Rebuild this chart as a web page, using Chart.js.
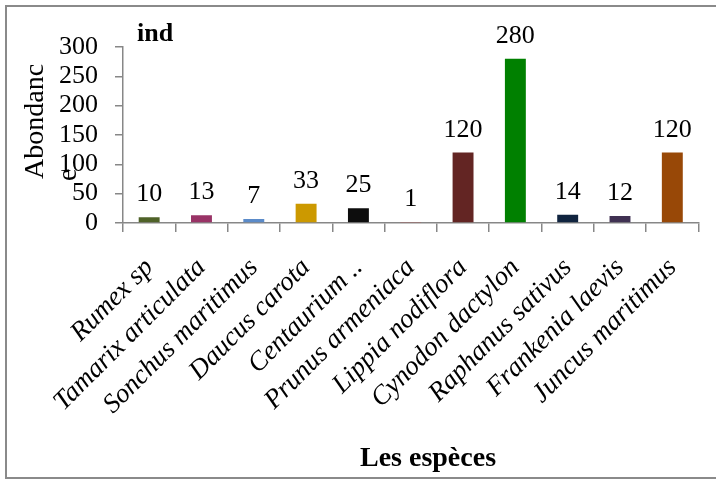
<!DOCTYPE html>
<html>
<head>
<meta charset="utf-8">
<script src="https://cdn.jsdelivr.net/npm/chart.js@4/dist/chart.umd.min.js"></script>
<style>
  html, body { margin: 0; padding: 0; background: #fff; }
  #wrap { position: relative; width: 716px; height: 480px; }
</style>
</head>
<body>
<div id="wrap"><canvas id="c" width="716" height="480"></canvas></div>
<script>
// Species observed and their abundance (number of individuals)
const species = [
  'Rumex sp', 'Tamarix articulata', 'Sonchus maritimus', 'Daucus carota',
  'Centaurium ..', 'Prunus armeniaca', 'Lippia nodiflora', 'Cynodon dactylon',
  'Raphanus sativus', 'Frankenia laevis', 'Juncus maritimus'
];
const abundance = [10, 13, 7, 33, 25, 1, 120, 280, 14, 12, 120];
const barColors = [
  '#4F6228', '#993366', '#5B8BC9', '#CC9900', '#0D0D0D', '#C0504D',
  '#632523', '#008000', '#10243F', '#403152', '#984807'
];
const yTicks = [0, 50, 100, 150, 200, 250, 300];

const SERIF = "'Liberation Serif', 'Times New Roman', serif";
const AXIS = '#878787';

// Grey frame around the whole figure
const framePlugin = {
  id: 'frame',
  beforeDraw(chart) {
    const ctx = chart.ctx;
    ctx.save();
    ctx.fillStyle = '#fff';
    ctx.fillRect(0, 0, chart.width, chart.height);
    ctx.strokeStyle = '#8a8a8a';
    ctx.lineWidth = 2;
    ctx.strokeRect(6, 6, 730, 472);
    ctx.restore();
  }
};

// Value above each bar, plus axis titles
const labelsPlugin = {
  id: 'valueLabels',
  afterDatasetsDraw(chart) {
    const ctx = chart.ctx;
    const meta = chart.getDatasetMeta(0);
    const data = chart.data.datasets[0].data;
    ctx.save();
    ctx.fillStyle = '#000';
    ctx.font = '26px ' + SERIF;
    ctx.textAlign = 'center';
    ctx.textBaseline = 'alphabetic';
    meta.data.forEach((bar, i) => {
      ctx.fillText(String(data[i]), bar.x, bar.y - 16);
    });

    // unit label
    ctx.font = 'bold 26px ' + SERIF;
    ctx.textAlign = 'left';
    ctx.fillText('ind', 137, 41);

    // x axis title
    ctx.font = 'bold 28px ' + SERIF;
    ctx.textAlign = 'center';
    ctx.fillText('Les espèces', 428, 466);

    // y axis title, wrapped onto two lines
    ctx.font = '28px ' + SERIF;
    ctx.textAlign = 'left';
    ctx.translate(43, 179);
    ctx.rotate(-Math.PI / 2);
    ctx.fillText('Abondanc', 0, 0);
    ctx.fillText('e', -2, 33);
    ctx.restore();
  }
};

new Chart(document.getElementById('c'), {
  type: 'bar',
  data: {
    labels: species,
    datasets: [{
      data: abundance,
      backgroundColor: barColors,
      borderWidth: 0,
      barPercentage: 0.4,
      categoryPercentage: 1.0
    }]
  },
  options: {
    responsive: false,
    animation: false,
    devicePixelRatio: 1,
    layout: { padding: { top: 47, right: 17, left: 0, bottom: 0 } },
    plugins: {
      legend: { display: false },
      tooltip: { enabled: false }
    },
    scales: {
      x: {
        offset: true,
        grid: {
          display: true,
          offset: true,
          drawOnChartArea: false,
          drawTicks: true,
          tickLength: 9,
          color: AXIS,
          lineWidth: 1.5
        },
        border: { display: true, color: AXIS, width: 1.5 },
        ticks: {
          autoSkip: false,
          minRotation: 45,
          maxRotation: 45,
          padding: 20,
          color: '#000',
          font: { family: SERIF, size: 27, style: 'italic' }
        },
        afterFit(scale) { scale.height = 257; }
      },
      y: {
        min: 0,
        max: 300,
        afterBuildTicks(scale) { scale.ticks = yTicks.map(v => ({ value: v })); },
        grid: {
          display: true,
          drawOnChartArea: false,
          drawTicks: true,
          tickLength: 8,
          color: AXIS,
          lineWidth: 1.5
        },
        border: { display: true, color: AXIS, width: 1.5 },
        ticks: {
          autoSkip: false,
          padding: 17,
          color: '#000',
          font: { family: SERIF, size: 26 }
        },
        afterFit(scale) { scale.width = 123; }
      }
    }
  },
  plugins: [framePlugin, labelsPlugin]
});
</script>
</body>
</html>
